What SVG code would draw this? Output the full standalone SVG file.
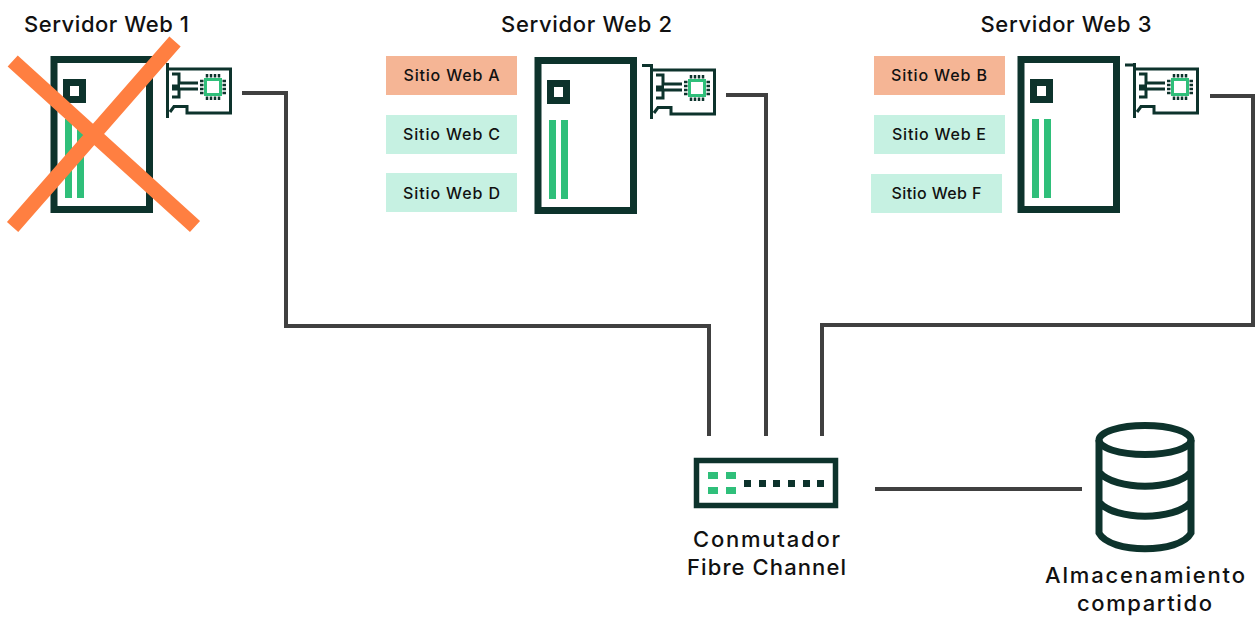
<svg xmlns="http://www.w3.org/2000/svg" width="1260" height="617" viewBox="0 0 1260 617">
<style>
text{font-family:"Inter","Liberation Sans",sans-serif;fill:#111;text-anchor:middle}
.t{font-size:22px;font-weight:500}
.s{font-size:16px;font-weight:500}
.d{fill:none;stroke:#0d332c;stroke-width:7}
.n{fill:none;stroke:#0d332c;stroke-width:3}
.g{fill:#2fbf7a}
.k{fill:#0d332c}
.c{fill:none;stroke:#404040;stroke-width:4}
.o{fill:#f5b595}
.m{fill:#c6f1e2}
</style>
<defs>
<g id="srv">
<rect class="d" x="54" y="59.500" width="95.500" height="150"/>
<rect class="d" x="66.500" y="82.500" width="16" height="17"/>
<rect class="g" x="65" y="119" width="7" height="79"/>
<rect class="g" x="77" y="119" width="7" height="79"/>
</g>
<g id="nic">
<path class="n" d="M167.500 63V118M167.500 69H230.500V113H187V106.500H174L170 112"/>
<path class="n" d="M172 74H179V83H198M172 89H198M179 89V97H172M172 86H180"/>
<rect x="205.500" y="79.500" width="15" height="15" fill="#fff" stroke="#2fbf7a" stroke-width="3"/>
<path d="M207 74v3.500M211 74v3.500M215 74v3.500M219 74v3.500M207 96.500v3.500M211 96.500v3.500M215 96.500v3.500M219 96.500v3.500M200 81h3.500M200 85h3.500M200 89h3.500M200 93h3.500M222.500 81h3.500M222.500 85h3.500M222.500 89h3.500M222.500 93h3.500" stroke="#0d332c" stroke-width="2.500" fill="none"/>
</g>
</defs>
<g id="connectors">
<path class="c" d="M242 93H286V326H709V436"/>
<path class="c" d="M726 95H766V436"/>
<path class="c" d="M1210 96H1253V325H822V436"/>
<path class="c" d="M875 489H1082"/>
</g>
<g id="server1">
<use href="#srv"/><use href="#nic"/>
<path d="M12.700 61L195 226.500M175 41.500L12.600 227" fill="none" stroke="#ff7f41" stroke-width="15"/>
<text class="t" x="106.500" y="32" textLength="165">Servidor Web 1</text>
</g>
<g id="server2">
<use href="#srv" x="484" y="1"/><use href="#nic" x="484" y="1"/>
<path class="n" d="M642 65.500H652"/>
<text class="t" x="586.500" y="32" textLength="171">Servidor Web 2</text>
</g>
<g id="server3">
<use href="#srv" x="967"/><use href="#nic" x="967"/>
<path class="n" d="M1125 65H1135"/>
<text class="t" x="1066" y="32" textLength="171">Servidor Web 3</text>
</g>
<g id="sitio-a"><rect class="o" x="386" y="56" width="131" height="39"/><text class="s" x="451.500" y="81" textLength="96">Sitio Web A</text></g>
<g id="sitio-c"><rect class="m" x="386" y="115" width="131" height="39"/><text class="s" x="451.500" y="140" textLength="97">Sitio Web C</text></g>
<g id="sitio-d"><rect class="m" x="386" y="173" width="131" height="39"/><text class="s" x="451.500" y="199" textLength="97">Sitio Web D</text></g>
<g id="sitio-b"><rect class="o" x="874" y="56" width="131" height="39"/><text class="s" x="939" y="81" textLength="96">Sitio Web B</text></g>
<g id="sitio-e"><rect class="m" x="874" y="115" width="131" height="39"/><text class="s" x="939" y="140" textLength="94">Sitio Web E</text></g>
<g id="sitio-f"><rect class="m" x="871" y="174" width="131" height="39"/><text class="s" x="936.500" y="199" textLength="90">Sitio Web F</text></g>
<g id="switch">
<rect x="696.500" y="460.500" width="139" height="45" fill="none" stroke="#0d332c" stroke-width="5.500"/>
<path class="g" d="M708 472h10v7h-10zM726 472h10v7h-10zM708 487h10v7h-10zM726 487h10v7h-10z"/>
<path class="k" d="M744 480h7v7h-7zM759 480h7v7h-7zM773 480h7v7h-7zM788 480h7v7h-7zM803 480h7v7h-7zM817 480h7v7h-7z"/>
<text class="t" x="766.500" y="547" textLength="147">Conmutador</text>
<text class="t" x="766.500" y="575" textLength="159">Fibre Channel</text>
</g>
<g id="storage">
<ellipse class="d" cx="1145" cy="440" rx="46" ry="14.500"/>
<path class="d" d="M1099 440V533C1110 554 1180 554 1191 533V440M1099 472C1115 491 1175 491 1191 472M1099 502C1115 521 1175 521 1191 502"/>
<text class="t" x="1145" y="583" textLength="200">Almacenamiento</text>
<text class="t" x="1144.500" y="611" textLength="135">compartido</text>
</g>
</svg>
